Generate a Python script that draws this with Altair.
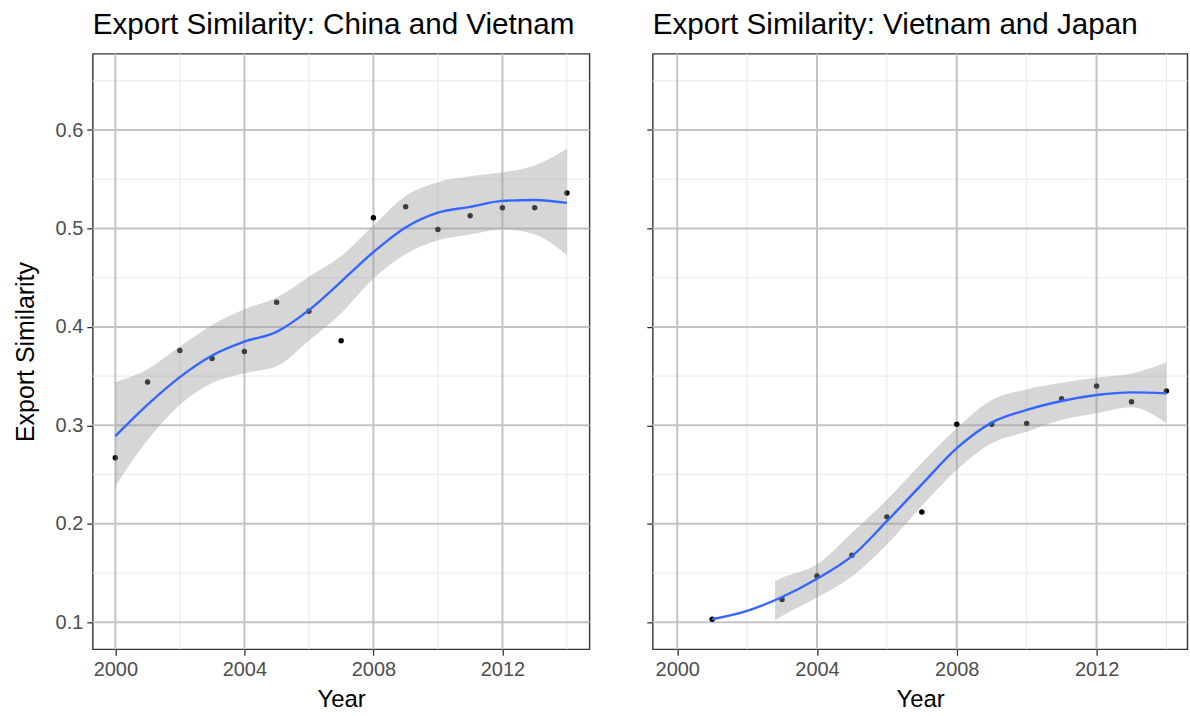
import altair as alt
import pandas as pd

# ---- observed export similarity ----
cv_years = [2000, 2001, 2002, 2003, 2004, 2005, 2006, 2007, 2008, 2009, 2010, 2011, 2012, 2013, 2014]
cv_values = [0.267, 0.344, 0.376, 0.368, 0.375, 0.425, 0.416, 0.386, 0.511, 0.522, 0.499, 0.513, 0.521, 0.521, 0.536]

vj_years = [2001, 2003, 2004, 2005, 2006, 2007, 2008, 2009, 2010, 2011, 2012, 2013, 2014]
vj_values = [0.103, 0.123, 0.147, 0.168, 0.207, 0.212, 0.301, 0.301, 0.302, 0.327, 0.340, 0.324, 0.335]

# ---- smoothed trend (loess) with its confidence band ----
cv_fit_years = [2000, 2001, 2002, 2003, 2004, 2005, 2006, 2007, 2008, 2009, 2010, 2011, 2012, 2013, 2014]
cv_fit = [0.289, 0.321, 0.349, 0.371, 0.385, 0.395, 0.417, 0.446, 0.476, 0.501, 0.516, 0.522, 0.528, 0.529, 0.526]
cv_upper = [0.344, 0.357, 0.380, 0.402, 0.418, 0.430, 0.451, 0.472, 0.503, 0.533, 0.547, 0.553, 0.557, 0.564, 0.581]
cv_lower = [0.238, 0.285, 0.321, 0.343, 0.353, 0.360, 0.386, 0.414, 0.449, 0.474, 0.488, 0.494, 0.499, 0.494, 0.473]

vj_fit_years = [2001, 2002, 2003, 2004, 2005, 2006, 2007, 2008, 2009, 2010, 2011, 2012, 2013, 2014]
vj_fit = [0.103, 0.1115, 0.1256, 0.1442, 0.1671, 0.2026, 0.240, 0.2768, 0.3028, 0.3156, 0.3247, 0.3308, 0.3335, 0.3325]
vj_band_years = [2002.8, 2003, 2004, 2005, 2006, 2007, 2008, 2009, 2010, 2011, 2012, 2013, 2014]
vj_upper = [0.1418, 0.1452, 0.1587, 0.1908, 0.2245, 0.2617, 0.297, 0.3257, 0.3365, 0.3432, 0.3483, 0.3527, 0.3639]
vj_lower = [0.1023, 0.1064, 0.125, 0.1465, 0.179, 0.218, 0.2549, 0.2819, 0.2936, 0.3055, 0.3122, 0.3183, 0.3021]

# ---- axis breaks ----
x_major = [2000, 2004, 2008, 2012]
x_minor = [2002, 2006, 2010, 2014]
y_major = [0.1, 0.2, 0.3, 0.4, 0.5, 0.6]
y_minor = [0.15, 0.25, 0.35, 0.45, 0.55, 0.65]

FONT = "Liberation Sans"
Y_DOMAIN = [0.0725, 0.6775]


def panel(title, years, values, fit_years, fit, band_years, upper, lower,
          width, show_y_labels, x_domain):
    xs = alt.Scale(domain=x_domain, nice=False, zero=False)
    ys = alt.Scale(domain=Y_DOMAIN, nice=False, zero=False)

    x_axis = alt.Axis(values=x_major, format="d", grid=False, domain=False,
                      tickColor="#333333", tickSize=6, tickWidth=1.3,
                      labelFont=FONT, labelFontSize=20, labelColor="#4D4D4D",
                      labelPadding=4, title="Year", titleFont=FONT,
                      titleFontSize=24, titleFontWeight="normal",
                      titleColor="black", titlePadding=8)
    if show_y_labels:
        y_axis = alt.Axis(values=y_major, format=".1f", grid=False, domain=False,
                          tickColor="#333333", tickSize=6, tickWidth=1.3,
                          labelFont=FONT, labelFontSize=20, labelColor="#4D4D4D",
                          labelPadding=4, title="Export Similarity",
                          titleFont=FONT, titleFontSize=25,
                          titleFontWeight="normal", titleColor="black",
                          titlePadding=17)
    else:
        y_axis = alt.Axis(values=y_major, grid=False, domain=False, labels=False,
                          tickColor="#333333", tickSize=6, tickWidth=1.3,
                          title=None)

    pts = pd.DataFrame({"Year": years, "Similarity": values})
    fit_df = pd.DataFrame({"Year": fit_years, "Fit": fit})
    band_df = pd.DataFrame({"Year": band_years, "Upper": upper, "Lower": lower})

    def vrule(vals, color, w):
        return alt.Chart(pd.DataFrame({"Year": vals})).mark_rule(
            color=color, strokeWidth=w).encode(
            x=alt.X("Year:Q", scale=xs, axis=x_axis))

    def hrule(vals, color, w):
        return alt.Chart(pd.DataFrame({"Similarity": vals})).mark_rule(
            color=color, strokeWidth=w).encode(
            y=alt.Y("Similarity:Q", scale=ys, axis=y_axis))

    points = alt.Chart(pts).mark_circle(size=30, color="black", opacity=1).encode(
        x=alt.X("Year:Q", scale=xs, axis=x_axis),
        y=alt.Y("Similarity:Q", scale=ys, axis=y_axis),
    )
    ribbon = alt.Chart(band_df).mark_area(
        color="#999999", opacity=0.4, interpolate="monotone").encode(
        x=alt.X("Year:Q", scale=xs, axis=x_axis),
        y=alt.Y("Lower:Q", scale=ys, axis=y_axis),
        y2="Upper:Q",
    )
    line = alt.Chart(fit_df).mark_line(
        color="#3366FF", strokeWidth=2.4, interpolate="monotone").encode(
        x=alt.X("Year:Q", scale=xs, axis=x_axis),
        y=alt.Y("Fit:Q", scale=ys, axis=y_axis),
    )

    return alt.layer(
        vrule(x_minor, "#EBEBEB", 1.1), hrule(y_minor, "#EBEBEB", 1.1),
        vrule(x_major, "#C4C4C4", 2), hrule(y_major, "#C4C4C4", 2),
        points, ribbon, line,
    ).properties(
        width=width, height=597,
        title=alt.TitleParams(title, anchor="start", frame="group", font=FONT,
                              fontSize=29.7, fontWeight="normal", color="black",
                              baseline="alphabetic", offset=-11),
    )


left = panel("Export Similarity: China and Vietnam", cv_years, cv_values,
             cv_fit_years, cv_fit, cv_fit_years, cv_upper, cv_lower,
             498, True, [1999.3, 2014.7])
right = panel("Export Similarity: Vietnam and Japan", vj_years, vj_values,
              vj_fit_years, vj_fit, vj_band_years, vj_upper, vj_lower,
              536, False, [1999.3, 2014.6])

chart = alt.hconcat(left, right, spacing=63.4, bounds="flush").properties(
    padding={"left": 12, "top": 8, "right": 0, "bottom": 0},
    background="white",
).configure_view(
    stroke="#333333", strokeWidth=1.4,
)

chart.save("out.html", embed_options={"renderer": "svg", "actions": False})
